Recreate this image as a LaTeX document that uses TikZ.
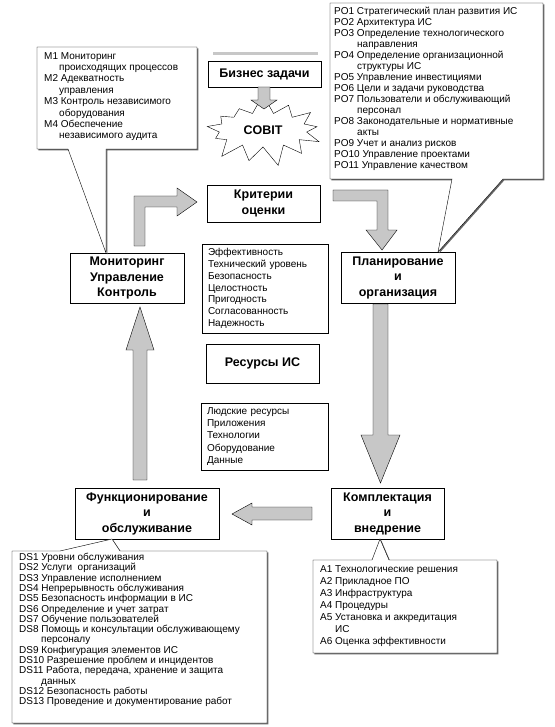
\documentclass[tikz,border=0pt]{standalone}
\usepackage{fontspec}
\setmainfont{Liberation Sans}
\usetikzlibrary{shapes.symbols,shadows}
\tikzset{
	boxshadow/.style={drop shadow={shadow xshift=1.3pt, shadow yshift=-1.3pt, fill=black!60, opacity=1}},
	titlebox/.style={draw, fill=white, boxshadow, align=center, inner sep=0pt, font=\bfseries\fontsize{12.5}{15.5}\selectfont},
	listbox/.style={draw, fill=white, boxshadow, align=left, inner xsep=6pt, inner ysep=0pt, font=\fontsize{10}{11.8}\selectfont},
	calloutbox/.style={draw, fill=white, boxshadow, line join=miter},
	listtext/.style={anchor=north west, align=left, inner sep=0pt},
	blockarrow/.style={draw, fill=black!22, line join=miter},
}
\begin{document}
\begin{tikzpicture}[x=1pt, y=-1pt]
		\useasboundingbox (0, 0) rectangle (554, 727);
		\draw [black!22, line width=3pt] (213, 54) -- (318, 54);
		\node [titlebox, minimum width=113, minimum height=26] (0) at (264.5, 74) {Бизнес задачи};
		\node [starburst, draw, fill=white, starburst points=13, starburst point height=20pt, random starburst=7, minimum width=128pt, minimum height=74pt, inner sep=0pt, font=\bfseries\fontsize{12.5}{13}\selectfont] (1) at (263, 130) {COBIT};
		\node [titlebox, minimum width=113, minimum height=37] (2) at (263.5, 203.5) {Критерии\\оценки};
		\node [titlebox, minimum width=114, minimum height=50] (3) at (127, 278) {Мониторинг\\Управление\\Контроль};
		\node [titlebox, minimum width=114, minimum height=51] (4) at (398, 277.5) {Планирование\\и\\организация};
		\node [listbox, minimum width=126, minimum height=89, text width=114] (5) at (265, 288.5) {Эффективность\\Технический уровень\\Безопасность\\Целостность\\Пригодность\\Согласованность\\Надежность};
		\node [titlebox, minimum width=113, minimum height=39] (6) at (262.5, 363.5) {Ресурсы ИС};
		\node [listbox, minimum width=127, minimum height=67, text width=115, font=\fontsize{10}{12.2}\selectfont] (7) at (264.5, 436.5) {Людские ресурсы\\Приложения\\Технологии\\Оборудование\\Данные};
		\node [titlebox, minimum width=144, minimum height=51] (8) at (147, 513.5) {Функционирование\\и\\обслуживание};
		\node [titlebox, minimum width=113, minimum height=51] (9) at (387.5, 513.5) {Комплектация\\и\\внедрение};
		\draw [calloutbox] (37, 47) -- (197, 47) -- (197, 149) -- (106, 149) -- (106, 253) -- (68, 149) -- (37, 149) -- cycle;
		\node [listtext, font=\fontsize{10}{11.4}\selectfont] (10) at (44, 52) {M1 Мониторинг\\\hspace*{15pt}происходящих процессов\\M2 Адекватность\\\hspace*{15pt}управления\\M3 Контроль независимого\\\hspace*{15pt}оборудования\\M4 Обеспечение\\\hspace*{15pt}независимого аудита};
		\draw [calloutbox] (330, 3) -- (543, 3) -- (543, 179) -- (503, 179) -- (438, 252) -- (452, 179) -- (330, 179) -- cycle;
		\node [listtext, font=\fontsize{10}{11}\selectfont] (11) at (334, 7) {PO1 Стратегический план развития ИС\\PO2 Архитектура ИС\\PO3 Определение технологического\\\hspace*{23pt}направления\\PO4 Определение организационной\\\hspace*{23pt}структуры ИС\\PO5 Управление инвестициями\\PO6 Цели и задачи руководства\\PO7 Пользователи и обслуживающий\\\hspace*{23pt}персонал\\PO8 Законодательные и нормативные\\\hspace*{23pt}акты\\PO9 Учет и анализ рисков\\PO10 Управление проектами\\PO11 Управление качеством};
		\draw [calloutbox] (313, 560) -- (372, 560) -- (380, 539) -- (389, 560) -- (497, 560) -- (497, 653) -- (313, 653) -- cycle;
		\node [listtext, font=\fontsize{10}{12}\selectfont] (12) at (320, 565) {A1 Технологические решения\\A2 Прикладное ПО\\A3 Инфраструктура\\A4 Процедуры\\A5 Установка и аккредитация\\\hspace*{15pt}ИС\\A6 Оценка эффективности};
		\draw [calloutbox] (12, 551) -- (60, 551) -- (112, 539) -- (120, 551) -- (267, 551) -- (267, 723) -- (12, 723) -- cycle;
		\node [listtext, font=\fontsize{10}{10.3}\selectfont] (13) at (19, 553) {DS1 Уровни обслуживания\\DS2 Услуги\ \ организаций\\DS3 Управление исполнением\\DS4 Непрерывность обслуживания\\DS5 Безопасность информации в ИС\\DS6 Определение и учет затрат\\DS7 Обучение пользователей\\DS8 Помощь и консультации обслуживающему\\\hspace*{22pt}персоналу\\DS9 Конфигурация элементов ИС\\DS10 Разрешение проблем и инцидентов\\DS11 Работа, передача, хранение и защита\\\hspace*{22pt}данных\\DS12 Безопасность работы\\DS13 Проведение и документирование работ};
		\draw [blockarrow] (258, 87) -- (270, 87) -- (270, 100) -- (277, 100) -- (264, 109) -- (251, 100) -- (258, 100) -- cycle;
		\draw [blockarrow] (134, 246) -- (134, 196) -- (177, 196) -- (177, 188) -- (197, 202) -- (177, 216) -- (177, 207) -- (145, 207) -- (145, 246) -- cycle;
		\draw [blockarrow] (333, 190) -- (388, 190) -- (388, 230) -- (397, 230) -- (382, 250) -- (366, 230) -- (377, 230) -- (377, 201) -- (333, 201) -- cycle;
		\draw [blockarrow] (373, 304) -- (388, 304) -- (388, 435) -- (400, 435) -- (380.5, 483) -- (361, 435) -- (373, 435) -- cycle;
		\draw [blockarrow] (312, 507) -- (252, 507) -- (252, 503) -- (232, 514) -- (252, 525) -- (252, 520) -- (312, 520) -- cycle;
		\draw [blockarrow] (133, 480) -- (133, 350) -- (126, 350) -- (140, 307) -- (154, 350) -- (147, 350) -- (147, 480) -- cycle;
\end{tikzpicture}
\end{document}
